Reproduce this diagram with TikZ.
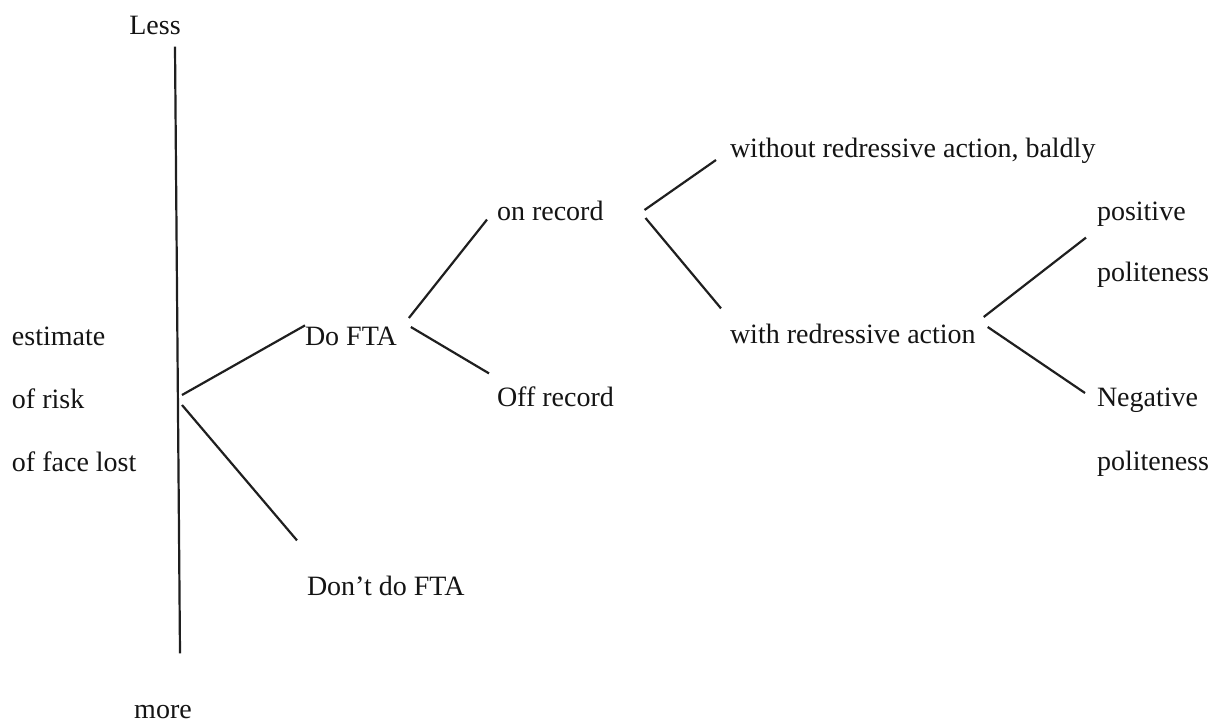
\documentclass[tikz,border=0pt]{standalone}
\usepackage{fontspec}
\setmainfont{Liberation Serif}
\usetikzlibrary{calc}
\begin{document}
\begin{tikzpicture}[x=1pt,y=-1pt,
  lbl/.style={inner sep=0pt, outer sep=0pt, text height=19.6pt, text depth=5.6pt,
    font=\fontsize{28}{34}\selectfont, text=black!92},
  wlbl/.style={lbl, anchor=west},
  branch/.style={line width=2.2pt, draw=black!88}]
\useasboundingbox (0,0) rectangle (1212,722);
% labels
\node[lbl] (less) at (155,28) {Less};
\node[lbl] (more) at (163,711) {more};
\node[wlbl] (estimate) at (12,338) {estimate};
\node[wlbl] (ofrisk) at (12,401) {of risk};
\node[wlbl] (facelost) at (12,464) {of face lost};
\node[wlbl] (dofta) at (305,338) {Do FTA};
\node[wlbl] (dont) at (307,588) {Don’t do FTA};
\node[wlbl] (onrec) at (497,213) {on record};
\node[wlbl] (offrec) at (497,399) {Off record};
\node[wlbl] (without) at (730,151) {without redressive action, baldly};
\node[wlbl] (with) at (730,336) {with redressive action};
\node[wlbl] (pos1) at (1097,213) {positive};
\node[wlbl] (pos2) at (1097,274) {politeness};
\node[wlbl] (neg1) at (1097,399) {Negative};
\node[wlbl] (neg2) at (1097,463) {politeness};
% axis
\draw[branch] ($(less.south)+(20,6)$) -- ($(more.north)+(17,-45)$);
\coordinate (root) at (182,400);
% branches
\draw[branch] ($(root)+(0,-5)$) -- ($(dofta.north west)+(0,0)$);
\draw[branch] ($(root)+(0,5)$) -- ($(dont.north west)+(-10,-35)$);
\draw[branch] ($(dofta.east)+(12,-20)$) -- ($(onrec.south west)+(-10,-6)$);
\draw[branch] ($(dofta.east)+(14,-11)$) -- ($(offrec.north west)+(-8,-13)$);
\draw[branch] ($(onrec.east)+(41,-3)$) -- ($(without.west)+(-14,9)$);
\draw[branch] ($(onrec.east)+(42,5)$) -- ($(with.north west)+(-9,-15)$);
\draw[branch] ($(with.east)+(8,-19)$) -- ($(pos1.south west)+(-11,12)$);
\draw[branch] ($(with.east)+(12,-9)$) -- ($(neg1.west)+(-12,-6)$);
\end{tikzpicture}
\end{document}
